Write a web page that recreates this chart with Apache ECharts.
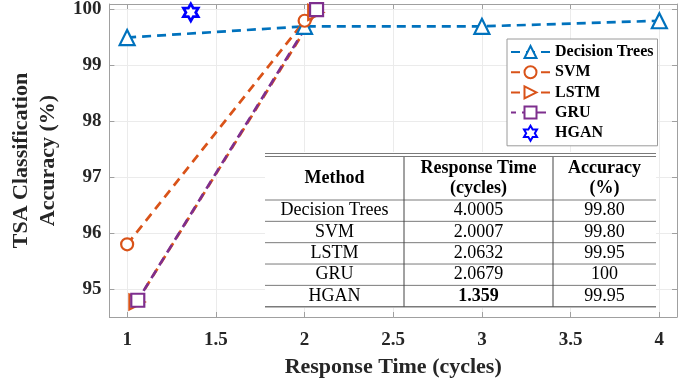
<!DOCTYPE html>
<html>
<head>
<meta charset="utf-8">
<script src="https://cdn.jsdelivr.net/npm/echarts@6/dist/echarts.min.js"></script>
<style>
  html, body { margin: 0; padding: 0; background: #fff; }
  #chart { width: 694px; height: 383px; }
</style>
</head>
<body>
<div id="chart"></div>
<script>
// series points: x = response time (cycles), y = accuracy (%)
var dtX = [1, 2, 3, 4.0005];
var dtY = [99.5, 99.7, 99.7, 99.8];
var svmX = [1, 2.0007];
var svmY = [95.8, 99.8];
var lstmX = [1.055, 2.0632];
var lstmY = [94.77, 99.95];
var gruX = [1.06, 2.0679];
var gruY = [94.8, 100];
var hganX = [1.359];
var hganY = [99.95];

// inset table
var tableHead = [['Method'], ['Response Time', '(cycles)'], ['Accuracy', '(%)']];
var tableMethods = ['Decision Trees', 'SVM', 'LSTM', 'GRU', 'HGAN'];
var tableTimes = ['4.0005', '2.0007', '2.0632', '2.0679', '1.359'];
var tableAcc = ['99.80', '99.80', '99.95', '100', '99.95'];

var serif = '"Liberation Serif", "Times New Roman", serif';
var blue = '#0072BD', orange = '#D95319', purple = '#7E2F8E', hganBlue = '#0000FF';

function pairs(xs, ys) {
  return xs.map(function (x, i) { return [x, ys[i]]; });
}

// six pointed star marker (matlab hexagram)
function hexagram() {
  var d = '';
  for (var k = 0; k < 12; k++) {
    var a = (-90 + 30 * k) * Math.PI / 180;
    var r = k % 2 === 0 ? 10 : 10 / Math.sqrt(3);
    d += (k === 0 ? 'M' : 'L') + (r * Math.cos(a)).toFixed(3) + ' ' + (r * Math.sin(a)).toFixed(3) + ' ';
  }
  return 'path://' + d + 'Z';
}

function lineSeries(name, xs, ys, color, symbol, size, rotate, dashOffset) {
  return {
    name: name,
    type: 'line',
    data: pairs(xs, ys),
    symbol: symbol,
    symbolSize: size,
    symbolRotate: rotate || 0,
    showAllSymbol: true,
    itemStyle: { color: '#fff', borderColor: color, borderWidth: 2.2 },
    lineStyle: { color: color, width: 2.7, type: [9, 6], dashOffset: dashOffset || 0 },
    emphasis: { disabled: true }
  };
}

// table drawn as graphic elements (kept above the grid lines)
function buildTable() {
  var left = 265, right = 656, top = 153, headBottom = 200, bottom = 306.7;
  var cols = [265, 404, 553, 656];
  var rowH = (bottom - headBottom) / tableMethods.length;
  var lineCol = '#7a7a7a';
  var els = [];
  els.push({ type: 'rect', z: 100, shape: { x: left, y: top - 1, width: right - left, height: bottom - top + 2 }, style: { fill: '#fff' } });
  function hline(y, w) {
    els.push({ type: 'line', z: 101, shape: { x1: left, y1: y, x2: right, y2: y }, style: { stroke: lineCol, lineWidth: w } });
  }
  [top + 0.5, top + 3.5, headBottom].forEach(function (y) { hline(y, 1); });
  for (var i = 1; i < tableMethods.length; i++) hline(headBottom + i * rowH, 1);
  hline(bottom, 1.5);
  [cols[1], cols[2]].forEach(function (x) {
    els.push({ type: 'line', z: 101, shape: { x1: x, y1: top + 4, x2: x, y2: bottom }, style: { stroke: '#444', lineWidth: 1 } });
  });

  function txt(s, x, y, bold) {
    els.push({
      type: 'text', z: 102,
      style: {
        text: s, x: x, y: y, textAlign: 'center', textVerticalAlign: 'middle',
        font: (bold ? 'bold ' : '') + '18px ' + serif, fill: '#000'
      }
    });
  }
  var centers = [(cols[0] + cols[1]) / 2, (cols[1] + cols[2]) / 2, (cols[2] + cols[3]) / 2];
  var headMid = (top + 3 + headBottom) / 2;
  tableHead.forEach(function (lines, c) {
    if (lines.length === 1) txt(lines[0], centers[c], headMid, true);
    else {
      txt(lines[0], centers[c], headMid - 10, true);
      txt(lines[1], centers[c], headMid + 10, true);
    }
  });
  var best = 0;
  tableTimes.forEach(function (t, i) { if (+t < +tableTimes[best]) best = i; });
  tableMethods.forEach(function (m, i) {
    var yc = headBottom + (i + 0.5) * rowH;
    txt(m, centers[0], yc, false);
    txt(tableTimes[i], centers[1], yc, i === best);
    txt(tableAcc[i], centers[2], yc, false);
  });
  return els;
}

var axisGray = '#a0a0a0';
var labelStyle = { fontFamily: serif, fontWeight: 'bold', fontSize: 19, color: '#262626' };
var nameStyle = { fontFamily: serif, fontWeight: 'bold', fontSize: 22, color: '#262626' };

function mainAxis(min, max, pos, extra, margin) {
  var ax = {
    type: 'value', min: min, max: max, position: pos,
    axisLine: { show: true, onZero: false, lineStyle: { color: axisGray, width: 1 } },
    axisTick: { show: true, inside: true, length: 5, lineStyle: { color: axisGray } },
    axisLabel: Object.assign({ showMinLabel: false, showMaxLabel: false, margin: margin }, labelStyle),
    splitLine: { show: true, lineStyle: { color: '#ebebeb', width: 1 } }
  };
  return Object.assign(ax, extra);
}
function mirrorAxis(min, max, pos) {
  return {
    type: 'value', min: min, max: max, position: pos,
    axisLine: { show: true, onZero: false, lineStyle: { color: axisGray, width: 1 } },
    axisTick: { show: true, inside: true, length: 5, lineStyle: { color: axisGray } },
    axisLabel: { show: false },
    splitLine: { show: false }
  };
}

var chart = echarts.init(document.getElementById('chart'), null, { renderer: 'canvas' });
chart.setOption({
  animation: false,
  backgroundColor: '#fff',
  grid: { left: 104, right: 17, top: 4, bottom: 62 },
  xAxis: [
    mainAxis(0.9, 4.1, 'bottom', {
      name: 'Response Time (cycles)', nameLocation: 'middle', nameGap: 39, nameTextStyle: nameStyle
    }, 14),
    mirrorAxis(0.9, 4.1, 'top')
  ],
  yAxis: [
    mainAxis(94.5, 100.1, 'left', {
      name: 'TSA Classification\nAccuracy (%)', nameLocation: 'middle', nameGap: 37, nameRotate: 90,
      nameTextStyle: Object.assign({ lineHeight: 27 }, nameStyle)
    }, 8),
    mirrorAxis(94.5, 100.1, 'right')
  ],
  legend: {
    orient: 'vertical', left: 507, top: 39,
    backgroundColor: '#fff', borderColor: '#9a9a9a', borderWidth: 1,
    padding: [5, 4, 4, 3],
    itemWidth: 39, itemHeight: 15, itemGap: 4.2,
    textStyle: { fontFamily: serif, fontWeight: 'bold', fontSize: 16, lineHeight: 15, color: '#000' },
    data: ['Decision Trees', 'SVM', 'LSTM', 'GRU', 'HGAN']
  },
  series: [
    lineSeries('Decision Trees', dtX, dtY, blue, 'triangle', 15),
    lineSeries('SVM', svmX, svmY, orange, 'circle', 12),
    lineSeries('LSTM', lstmX, lstmY, orange, 'triangle', 15, -90),
    lineSeries('GRU', gruX, gruY, purple, 'rect', 13, 0, 4),
    {
      name: 'HGAN', type: 'scatter', data: pairs(hganX, hganY),
      symbol: hexagram(), symbolSize: 17, symbolKeepAspect: true,
      itemStyle: { color: '#fff', borderColor: hganBlue, borderWidth: 2.8, opacity: 1 },
      emphasis: { disabled: true }
    }
  ],
  graphic: buildTable()
});
</script>
</body>
</html>
